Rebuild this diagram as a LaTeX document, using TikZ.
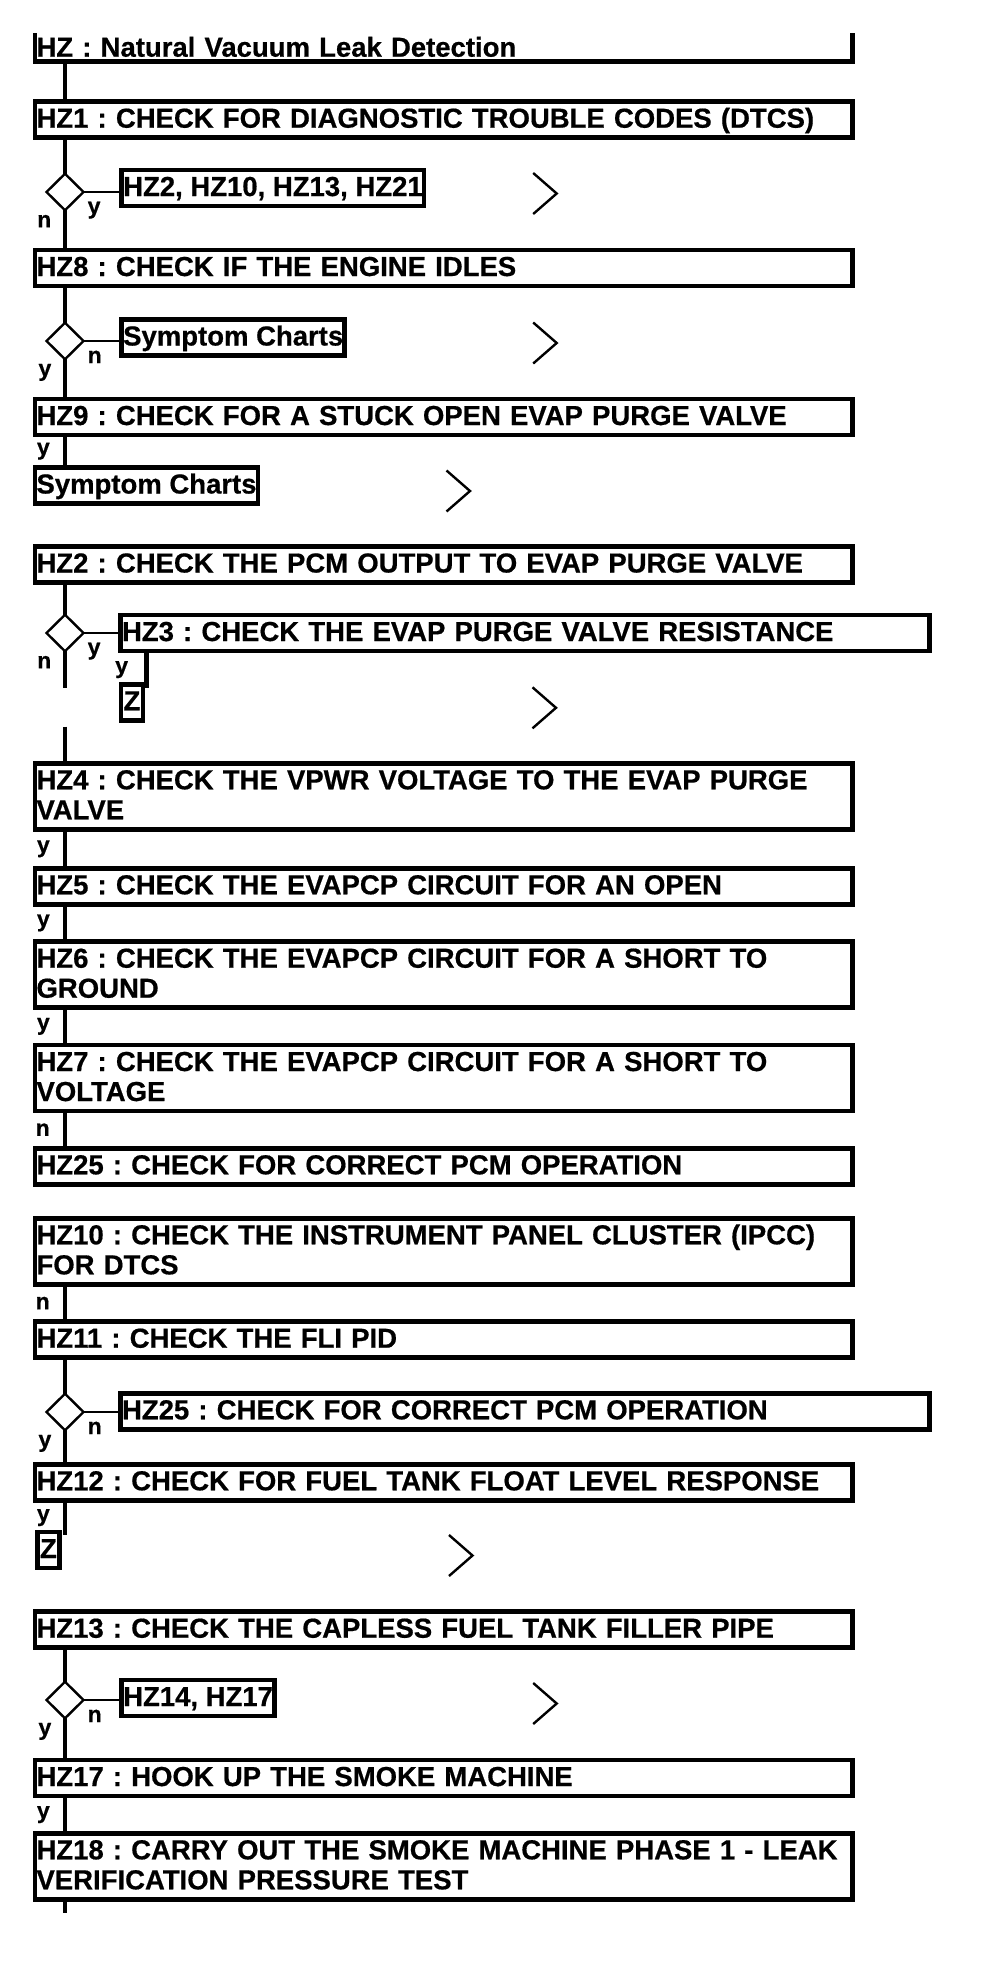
\documentclass[tikz,border=0pt]{standalone}
\usepackage{fontspec}
\setmainfont{Liberation Sans}[BoldFeatures={FakeBold=0.6}]
\usetikzlibrary{shapes.geometric}
\frenchspacing
\newcommand{\boxfont}{\fontsize{27.5}{30}\selectfont\bfseries}
\newcommand{\answerfont}{\fontsize{23}{23}\selectfont\bfseries}
\newcommand{\boxtop}{\rule{0pt}{26pt}}
\newcommand{\boxbottom}{\rule[-10pt]{0pt}{10pt}}
\tikzstyle{heading} = [rectangle, anchor=north west, text width=814.5pt, align=left, inner xsep=1.5pt, inner ysep=0pt, outer sep=0pt, text height=23.7pt, text depth=5pt, font=\boxfont]
\tikzstyle{process} = [rectangle, draw=black, line width=4.5pt, anchor=north west, text width=814.5pt, align=left, inner xsep=1.5pt, inner ysep=0pt, outer sep=0pt, font=\boxfont, execute at begin node=\boxtop, execute at end node=\boxbottom]
\tikzstyle{result} = [rectangle, draw=black, line width=4.5pt, anchor=north west, inner xsep=1.5pt, inner ysep=0pt, outer sep=0pt, font=\boxfont, execute at begin node=\boxtop, execute at end node=\boxbottom]
\tikzstyle{jump} = [result, line width=4.5pt, inner xsep=2.5pt]
\tikzstyle{decision} = [diamond, draw=black, line width=2.4pt, minimum width=37pt, minimum height=36.5pt, inner sep=0pt, outer sep=0pt]
\tikzstyle{answer} = [inner sep=0pt, font=\answerfont]
\tikzstyle{line} = [line width=3.5pt]
\tikzstyle{link} = [line width=2.4pt]
\tikzstyle{chevron} = [line width=2.4pt]

\begin{document}
\begin{tikzpicture}[x=1pt, y=1pt]
  \useasboundingbox (0,0) rectangle (992,-1970);
  \coordinate (trunk) at (65,0);
  \coordinate (cut1) at (65,-688.3);
  \coordinate (cut2) at (65,-726.7);
  \coordinate (stub) at (65,-1913.3);

  \node (hz) [heading] at (35,-33) {HZ : Natural Vacuum Leak Detection};
  \node (hz1) [process] at (35,-101.7) {HZ1 : CHECK FOR DIAGNOSTIC TROUBLE CODES (DTCS)};
  \node (d1) [decision] at (65,-192) {};
  \node (b1) [result] at (121.7,-170) {HZ2, HZ10, HZ13, HZ21};
  \node (hz8) [process] at (35,-250) {HZ8 : CHECK IF THE ENGINE IDLES};
  \node (d2) [decision] at (65,-341) {};
  \node (b2) [result] at (121.7,-319.5) {Symptom Charts};
  \node (hz9) [process] at (35,-399) {HZ9 : CHECK FOR A STUCK OPEN EVAP PURGE VALVE};
  \node (sc1) [result] at (35,-467.5) {Symptom Charts};
  \node (hz2) [process] at (35,-546.5) {HZ2 : CHECK THE PCM OUTPUT TO EVAP PURGE VALVE};
  \node (d3) [decision] at (65,-633) {};
  \node (hz3) [process, text width=806pt] at (120.5,-615) {HZ3 : CHECK THE EVAP PURGE VALVE RESISTANCE};
  \node (z1) [jump] at (121,-684.3) {Z};
  \node (hz4) [process] at (35,-763.3) {HZ4 : CHECK THE VPWR VOLTAGE TO THE EVAP PURGE\\VALVE};
  \node (hz5) [process] at (35,-868.3) {HZ5 : CHECK THE EVAPCP CIRCUIT FOR AN OPEN};
  \node (hz6) [process] at (35,-941.7) {HZ6 : CHECK THE EVAPCP CIRCUIT FOR A SHORT TO\\GROUND};
  \node (hz7) [process] at (35,-1045) {HZ7 : CHECK THE EVAPCP CIRCUIT FOR A SHORT TO\\VOLTAGE};
  \node (hz25) [process] at (35,-1148.3) {HZ25 : CHECK FOR CORRECT PCM OPERATION};
  \node (hz10) [process] at (35,-1218.3) {HZ10 : CHECK THE INSTRUMENT PANEL CLUSTER (IPCC)\\FOR DTCS};
  \node (hz11) [process] at (35,-1321.7) {HZ11 : CHECK THE FLI PID};
  \node (d4) [decision] at (65,-1412) {};
  \node (b4) [process, text width=806pt] at (120.5,-1393.3) {HZ25 : CHECK FOR CORRECT PCM OPERATION};
  \node (hz12) [process] at (35,-1464.3) {HZ12 : CHECK FOR FUEL TANK FLOAT LEVEL RESPONSE};
  \node (z2) [jump] at (37.5,-1532) {Z};
  \node (hz13) [process] at (35,-1611.7) {HZ13 : CHECK THE CAPLESS FUEL TANK FILLER PIPE};
  \node (d5) [decision] at (65,-1700) {};
  \node (b5) [result] at (121.7,-1680) {HZ14, HZ17};
  \node (hz17) [process] at (35,-1760) {HZ17 : HOOK UP THE SMOKE MACHINE};
  \node (hz18) [process] at (35,-1833.3) {HZ18 : CARRY OUT THE SMOKE MACHINE PHASE 1 - LEAK\\VERIFICATION PRESSURE TEST};

  \node (y1) [answer, anchor=north west] at ([shift={(4,-9.5)}]d1.east) {y};
  \node (n1) [answer, anchor=north east] at ([shift={(-13.5,-4.5)}]d1.south) {n};
  \node (n2) [answer, anchor=north west] at ([shift={(4,-9.5)}]d2.east) {n};
  \node (y2) [answer, anchor=north east] at ([shift={(-13.5,-4.5)}]d2.south) {y};
  \node (y3) [answer, anchor=north west] at ([shift={(4,-9.5)}]d3.east) {y};
  \node (n3) [answer, anchor=north east] at ([shift={(-13.5,-4.5)}]d3.south) {n};
  \node (n4) [answer, anchor=north west] at ([shift={(4,-9.5)}]d4.east) {n};
  \node (y4) [answer, anchor=north east] at ([shift={(-13.5,-4.5)}]d4.south) {y};
  \node (n5) [answer, anchor=north west] at ([shift={(4,-9.5)}]d5.east) {n};
  \node (y5) [answer, anchor=north east] at ([shift={(-13.5,-4.5)}]d5.south) {y};

  \draw [line width=4.5pt] (hz.north west) -- (hz.south west) -- (hz.south east) -- (hz.north east);
  \draw [line] (trunk |- hz.south) -- (trunk |- hz1.north);
  \draw [line] (trunk |- hz1.south) -- (d1.north);
  \draw [link] (d1.east) -- (d1.east -| b1.west);
  \draw [line] (d1.south) -- (trunk |- hz8.north);
  \draw [line] (trunk |- hz8.south) -- (d2.north);
  \draw [link] (d2.east) -- (d2.east -| b2.west);
  \draw [line] (d2.south) -- (trunk |- hz9.north);
  \draw [line] (trunk |- hz9.south) -- node[answer, left=13.5pt] {y} (trunk |- sc1.north);
  \draw [line] (trunk |- hz2.south) -- (d3.north);
  \draw [link] (d3.east) -- (d3.east -| hz3.west);
  \draw [line] (d3.south) -- (cut1);
  \draw [line, line width=4.5pt] ([xshift=3.5pt]z1.east |- hz3.south) -- node[answer, left=16pt] {y} ([xshift=3.5pt]z1.east |- cut1);
  \draw [line] (cut2) -- (trunk |- hz4.north);
  \draw [line] (trunk |- hz4.south) -- node[answer, left=13.5pt] {y} (trunk |- hz5.north);
  \draw [line] (trunk |- hz5.south) -- node[answer, left=13.5pt] {y} (trunk |- hz6.north);
  \draw [line] (trunk |- hz6.south) -- node[answer, left=13.5pt] {y} (trunk |- hz7.north);
  \draw [line] (trunk |- hz7.south) -- node[answer, left=13.5pt] {n} (trunk |- hz25.north);
  \draw [line] (trunk |- hz10.south) -- node[answer, left=13.5pt] {n} (trunk |- hz11.north);
  \draw [line] (trunk |- hz11.south) -- (d4.north);
  \draw [link] (d4.east) -- (d4.east -| b4.west);
  \draw [line] (d4.south) -- (trunk |- hz12.north);
  \draw [line] (trunk |- hz12.south) -- node[answer, left=13.5pt] {y} ([yshift=-3pt]trunk |- z2.north);
  \draw [line] (trunk |- hz13.south) -- (d5.north);
  \draw [link] (d5.east) -- (d5.east -| b5.west);
  \draw [line] (d5.south) -- (trunk |- hz17.north);
  \draw [line] (trunk |- hz17.south) -- node[answer, left=13.5pt] {y} (trunk |- hz18.north);
  \draw [line] (trunk |- hz18.south) -- (stub);

  \draw [chevron] ([shift={(411.5,-3)}]b1.north west) -- ++(23.5,-20.5) -- ++(-23.5,-20.5);
  \draw [chevron] ([shift={(411.5,-3)}]b2.north west) -- ++(23.5,-20.5) -- ++(-23.5,-20.5);
  \draw [chevron] ([shift={(411.5,-3)}]sc1.north west) -- ++(23.5,-20.5) -- ++(-23.5,-20.5);
  \draw [chevron] ([shift={(411.5,-3)}]z1.north west) -- ++(23.5,-20.5) -- ++(-23.5,-20.5);
  \draw [chevron] ([shift={(411.5,-3)}]z2.north west) -- ++(23.5,-20.5) -- ++(-23.5,-20.5);
  \draw [chevron] ([shift={(411.5,-3)}]b5.north west) -- ++(23.5,-20.5) -- ++(-23.5,-20.5);
\end{tikzpicture}
\end{document}
